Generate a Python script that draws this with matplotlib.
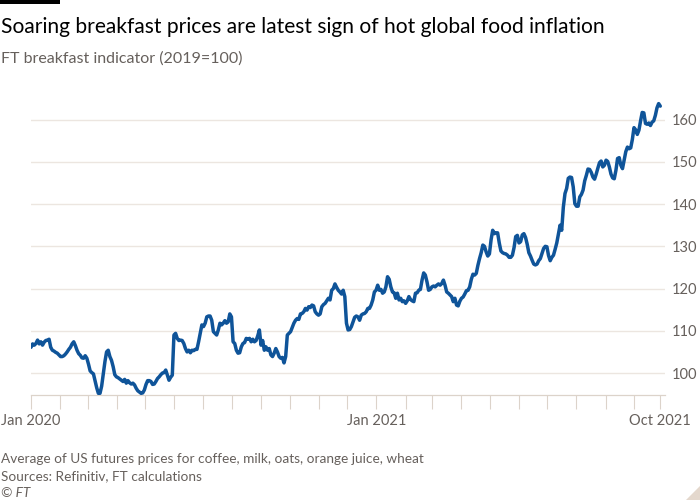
import matplotlib
matplotlib.use("Agg")
import matplotlib.pyplot as plt
import matplotlib.dates as mdates
from matplotlib.patches import Polygon, Rectangle
import pandas as pd

# ---- data ----
start_date = "2020-01-01"
end_date = "2021-10-29"
values = [
    106.1, 106.9, 106.6, 107.0, 107.8, 106.9, 107.4, 106.6, 107.3, 107.7, 107.8, 108.0, 106.1, 105.4,
    105.2, 104.9, 104.7, 104.3, 103.9, 103.9, 104.1, 104.5, 105.0, 105.6, 106.1, 106.9, 107.4, 106.5,
    105.4, 104.6, 104.2, 103.6, 103.5, 104.1, 103.5, 102.1, 100.5, 100.1, 99.8, 98.2, 96.5, 95.2,
    95.2, 96.9, 99.9, 102.7, 105.0, 105.4, 103.9, 103.0, 101.5, 99.6, 99.1, 98.9, 98.6, 98.3,
    98.0, 98.5, 97.6, 98.2, 97.7, 97.4, 97.6, 97.2, 96.4, 95.8, 95.5, 95.2, 95.3, 96.0,
    97.3, 98.2, 98.2, 98.0, 97.3, 97.4, 98.0, 98.7, 99.1, 99.6, 100.0, 100.1, 100.7, 99.5,
    98.3, 99.0, 99.5, 109.0, 109.4, 108.2, 107.7, 107.8, 107.7, 107.0, 105.8, 105.0, 105.4, 104.8,
    105.4, 105.3, 105.6, 105.6, 107.4, 109.4, 111.4, 111.0, 111.8, 113.3, 113.5, 113.5, 112.5, 109.8,
    109.4, 109.0, 110.2, 111.8, 111.4, 111.8, 112.4, 111.8, 112.1, 114.0, 113.3, 107.4, 107.0, 105.4,
    104.7, 104.8, 106.2, 107.0, 107.2, 108.2, 108.0, 108.2, 107.4, 108.0, 107.4, 107.7, 108.8, 110.2,
    106.6, 107.7, 105.4, 106.2, 105.4, 105.8, 104.3, 103.9, 104.7, 105.8, 105.0, 103.9, 103.5, 103.7,
    102.4, 103.9, 109.0, 109.4, 109.8, 110.8, 111.8, 112.5, 112.9, 112.7, 114.0, 114.1, 114.5, 115.3,
    114.9, 115.7, 115.5, 116.1, 115.9, 114.5, 114.0, 113.7, 114.0, 115.7, 116.2, 116.5, 117.1, 117.7,
    117.3, 119.6, 120.0, 121.1, 120.3, 119.6, 119.2, 118.7, 119.6, 118.1, 111.8, 110.2, 110.3, 111.0,
    112.1, 113.2, 113.5, 113.3, 112.5, 113.7, 114.0, 114.1, 114.5, 115.3, 115.3, 116.1, 117.3, 119.2,
    119.6, 120.8, 119.6, 119.8, 118.9, 119.2, 120.4, 122.8, 122.2, 120.4, 119.2, 119.0, 117.7, 118.9,
    117.3, 117.7, 116.9, 117.1, 116.5, 117.1, 118.1, 117.4, 117.1, 116.9, 118.9, 119.0, 119.6, 119.8,
    122.0, 123.7, 123.2, 121.6, 119.6, 119.8, 120.4, 120.6, 120.4, 120.8, 121.1, 120.8, 121.2, 122.0,
    120.8, 119.2, 118.9, 118.5, 118.1, 116.9, 117.7, 116.1, 115.9, 117.0, 117.7, 118.0, 118.7, 119.5,
    119.6, 120.4, 122.2, 123.4, 123.2, 123.6, 125.5, 127.1, 128.5, 130.3, 130.0, 128.7, 127.7, 128.2,
    131.5, 133.8, 133.0, 133.2, 133.2, 130.8, 128.9, 128.5, 128.3, 128.2, 127.9, 127.4, 127.4, 127.9,
    129.7, 132.3, 132.6, 130.8, 131.1, 132.7, 133.0, 132.1, 130.5, 128.5, 127.7, 126.7, 125.8, 125.6,
    125.8, 126.6, 127.1, 128.3, 129.5, 130.0, 129.9, 127.8, 126.6, 127.4, 127.9, 129.3, 130.8, 132.9,
    135.0, 133.8, 139.3, 142.5, 143.7, 146.1, 146.4, 146.3, 144.1, 140.1, 139.5, 139.5, 141.7, 142.3,
    143.3, 145.5, 146.8, 148.3, 148.2, 147.5, 146.4, 145.9, 147.1, 148.5, 149.8, 150.2, 148.8, 149.2,
    150.4, 150.1, 148.8, 147.1, 146.2, 146.0, 148.0, 150.8, 151.0, 149.2, 148.4, 150.4, 152.4, 153.5,
    153.1, 153.3, 155.3, 158.1, 157.6, 156.5, 157.5, 159.7, 161.7, 161.6, 159.1, 158.9, 159.2, 158.6,
    159.4, 159.7, 161.0, 162.8, 163.8, 163.2,
]
dates = pd.date_range(start_date, end_date, periods=len(values))

y_ticks = [100, 110, 120, 130, 140, 150, 160]
x_tick_dates = list(pd.date_range("2020-01-01", "2021-10-01", freq="MS")) + [pd.Timestamp(end_date)]
x_tick_labels = {pd.Timestamp("2020-01-01"): "Jan 2020",
                 pd.Timestamp("2021-01-01"): "Jan 2021",
                 pd.Timestamp(end_date): "Oct 2021"}

title = "Soaring breakfast prices are latest sign of hot global food inflation"
subtitle = "FT breakfast indicator (2019=100)"
notes = ["Average of US futures prices for coffee, milk, oats, orange juice, wheat",
         "Sources: Refinitiv, FT calculations"]
credit = "© FT"

# ---- style ----
W, H = 700, 500
FONT = "Lato"
plt.rcParams["font.family"] = [FONT, "DejaVu Sans"]
grey = "#66605c"
line_col = "#0f5499"
grid_col = "#ece6e0"
axis_col = "#dcd3ca"

fig = plt.figure(figsize=(W / 100, H / 100), dpi=100, facecolor="white")

def fx(px):
    return px / W

def fy(py):
    return 1 - py / H

ax_left, ax_right, ax_top, ax_bottom = 31, 665, 85, 395
ax = fig.add_axes([fx(ax_left), fy(ax_bottom), fx(ax_right - ax_left), (ax_bottom - ax_top) / H])
ax.set_facecolor("white")

ax.plot(dates, values, color=line_col, lw=2.5, solid_joinstyle="round", solid_capstyle="round", zorder=3)

ax.set_xlim(pd.Timestamp("2020-01-01"), pd.Timestamp("2021-11-03"))
ax.set_ylim(94.8, 168.2)

ax.yaxis.tick_right()
ax.set_yticks(y_ticks)
ax.set_yticklabels([str(v) for v in y_ticks])
ax.tick_params(axis="y", length=0, pad=5, labelsize=10.5, labelcolor=grey)
ax.grid(axis="y", color=grid_col, lw=1.0, zorder=0)

ax.set_xticks(x_tick_dates)
ax.set_xticklabels([x_tick_labels.get(d, "") for d in x_tick_dates])
ax.tick_params(axis="x", length=10, width=0.8, color=axis_col, pad=4, labelsize=10.5, labelcolor=grey)

for s in ["top", "left", "right"]:
    ax.spines[s].set_visible(False)
ax.spines["bottom"].set_color(axis_col)
ax.spines["bottom"].set_linewidth(0.9)

# ---- texts ----
fig.add_artist(Rectangle((0, fy(4)), fx(60), 4 / H, transform=fig.transFigure, color="black", lw=0))
fig.text(fx(1), fy(33), title, fontsize=15.1, color="#000000", va="baseline", ha="left")
fig.text(fx(1), fy(63), subtitle, fontsize=11.5, color=grey, va="baseline", ha="left")
fig.text(fx(1), fy(463), notes[0], fontsize=9.85, color=grey, va="baseline", ha="left")
fig.text(fx(1), fy(480), notes[1], fontsize=9.85, color=grey, va="baseline", ha="left")
fig.text(fx(1), fy(497), credit, fontsize=9.85, color=grey, va="baseline", ha="left", style="italic")

fig.add_artist(Polygon([(fx(686), fy(500)), (fx(700), fy(500)), (fx(700), fy(486))],
                       closed=True, transform=fig.transFigure, color="#e4d8cd", lw=0))

fig.savefig("out.png", dpi=100, facecolor="white")
